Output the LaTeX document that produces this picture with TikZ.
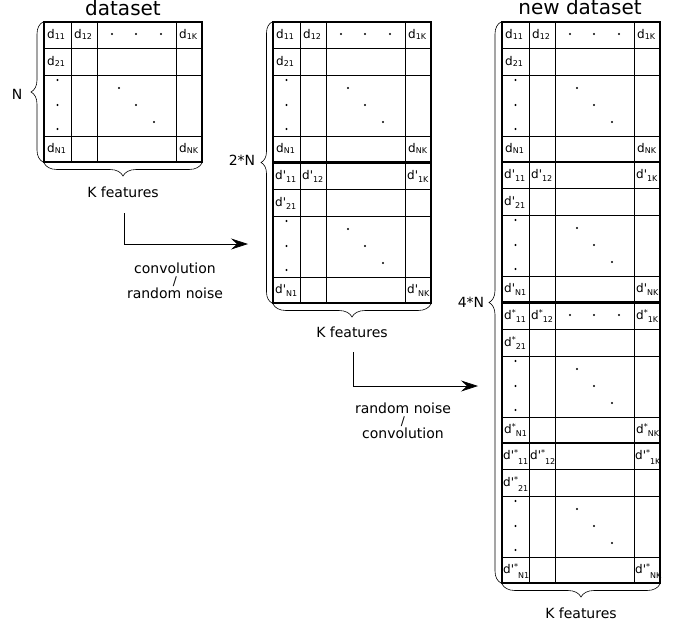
\documentclass[tikz,border=0pt]{standalone}
\usepackage{fontspec}
\setmainfont{DejaVu Sans}
\usetikzlibrary{decorations.pathreplacing,arrows.meta}

% small lowered / raised indices in the text font
\newlength\subdrop
\newcommand\sbs[1]{\raisebox{-\subdrop}{\fontsize{8}{8}\selectfont #1}}
\newcommand\sps[1]{\raisebox{4pt}{\fontsize{8}{8}\selectfont #1}}
\newcommand\pr{\textquotesingle}

\tikzset{
  outer/.style={line width=1.3pt},
  inner/.style={line width=0.7pt},
  cell/.style={anchor=base west, inner sep=0pt, font=\fontsize{12}{13}\selectfont},
  lab/.style={anchor=base, inner sep=0pt, font=\fontsize{14}{14}\selectfont},
  ttl/.style={anchor=base, inner sep=0pt, font=\fontsize{20}{20}\selectfont},
  slash/.style={anchor=base, inner sep=0pt, font=\fontsize{12}{12}\selectfont},
  brc/.style={decorate, decoration={brace, amplitude=#1}, line width=0.6pt},
  flow/.style={line width=0.7pt, -{Stealth[length=17pt, width=11pt, inset=6pt]}},
}

% one block of the table: #1,#2 top-left corner, #3 entry symbol,
% #4 dots along the first row (1) or not (0), #5 name of the block,
% #6 drop of the indices, #7 left padding of the entries
\newcommand\drawblock[7]{%
  \setlength\subdrop{#6pt}%
  \begin{scope}[shift={(#1,#2)}]
    \draw[inner] (27,0) -- (27,140) (53,0) -- (53,140) (132,0) -- (132,140);
    \draw[inner] (0,26) -- (158,26) (0,53) -- (158,53) (0,114) -- (158,114);
    \draw[outer] (0,0) rectangle (158,140);
    \node[cell] (#5-11) at (#7,16)      {#3\sbs{11}};
    \node[cell] (#5-12) at (27+#7,16)   {#3\sbs{12}};
    \node[cell] (#5-1K) at (132+#7,16)  {#3\sbs{1K}};
    \node[cell] (#5-21) at (#7,43)      {#3\sbs{21}};
    \node[cell] (#5-N1) at (#7,130)     {#3\sbs{N1}};
    \node[cell] (#5-NK) at (132+#7,130) {#3\sbs{NK}};
    \foreach \yy in {58,83,107} \fill (13.5,\yy) circle (1.1);
    \foreach \xx/\yy in {75/66,92/83,110/100} \fill (\xx,\yy) circle (1.1);
    \ifnum#4=1
      \foreach \xx in {68,92,117} \fill (\xx,12) circle (1.1);
    \fi
  \end{scope}}

\begin{document}
\begin{tikzpicture}[x=1pt, y=-1pt]
  \useasboundingbox (0,0) rectangle (678,625);

  % original dataset
  \node[ttl] (t1) at (123,15) {dataset};
  \drawblock{44}{22}{d}{1}{A}{1.5}{3}
  \draw[brc=12pt] (43,162) -- (43,22);
  \node[lab] (n1) at (17,99) {N};
  \draw[brc=13pt] (202,163) -- (44,163);
  \node[lab] (k1) at (123,197) {K features};

  % after the first augmentation
  \drawblock{273}{22}{d}{1}{B}{1.5}{3}
  \drawblock{273}{163}{d\pr}{0}{C}{3.5}{2}
  \draw[brc=11pt] (272,303) -- (272,22);
  \node[lab] (n2) at (242,165) {2*N};
  \draw[brc=13pt] (431,304) -- (273,304);
  \node[lab] (k2) at (352,337) {K features};

  % final dataset
  \node[ttl] (t3) at (580,14) {new dataset};
  \drawblock{502}{22}{d}{1}{D}{1.5}{3}
  \drawblock{502}{162}{d\pr}{0}{E}{3.5}{2}
  \drawblock{502}{303}{d\sps{*}}{1}{F}{3.5}{2}
  \drawblock{502}{443}{d\pr\sps{*}}{0}{G}{5}{1}
  \draw[brc=12pt] (501,583) -- (501,22);
  \node[lab] (n3) at (471,307) {4*N};
  \draw[brc=13pt] (660,584) -- (502,584);
  \node[lab] (k3) at (581,618) {K features};

  % transformation steps
  \coordinate (s1) at (124,213);
  \coordinate (e1) at (248,244);
  \draw[flow] (s1) |- (e1);
  \node[lab]   (c1a) at (175,273) {convolution};
  \node[slash] (c1b) at (175,285) {/};
  \node[lab]   (c1c) at (175,298) {random noise};

  \coordinate (s2) at (353,352);
  \coordinate (e2) at (478,386);
  \draw[flow] (s2) |- (e2);
  \node[lab]   (c2a) at (403,413) {random noise};
  \node[slash] (c2b) at (403,425) {/};
  \node[lab]   (c2c) at (403,438) {convolution};
\end{tikzpicture}
\end{document}
